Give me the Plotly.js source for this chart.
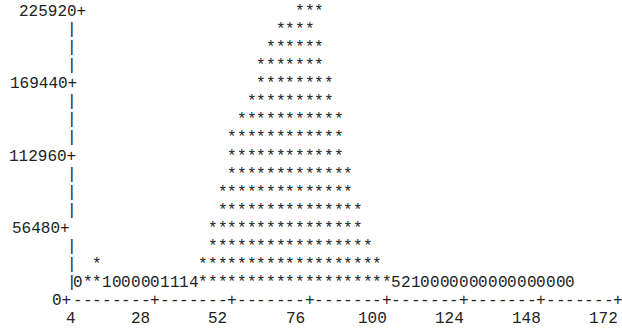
<!DOCTYPE html>
<html>
<head>
<meta charset="utf-8">
<script src="https://cdn.plot.ly/plotly-3.0.1.min.js"></script>
<style>html,body{margin:0;padding:0;background:#fff;}#chart{width:622px;height:331px;}</style>
</head>
<body>
<div id="chart"></div>
<script>
// ---- data ----
const rowStep = 14120;                       // counts represented by one text row
const yTickVals = [0, 56480, 112960, 169440, 225920];
const yTickText = ['0', '56480', '112960', '169440', '225920'];
const xTickVals = [4, 28, 52, 76, 100, 124, 148, 172];
const xTickText = ['4', '28', '52', '76', '100', '124', '148', '172'];
const binX = [4,7,10,13,16,19,22,25,28,31,34,37,40,43,46,49,52,55,58,61,64,67,70,73,76,79,82,85,88,91,94,97,100,103,106,109,112,115,118,121,124,127,130,133,136,139,142,145,148,151,154,157];
const starRows = [0,1,2,0,0,0,0,0,0,0,0,0,0,2,4,6,9,10,11,13,14,15,16,16,16,14,12,10,7,5,3,2,1,0,0,0,0,0,0,0,0,0,0,0,0,0,0,0,0,0,0,0];
const lowDigit = ['0',null,null,'1','0','0','0','0','0','1','1','1','4',
  null,null,null,null,null,null,null,null,null,null,null,null,null,null,null,null,null,null,null,null,
  '5','2','1','0','0','0','0','0','0','0','0','0','0','0','0','0','0','0','0'];

// ---- rendering ----
const FONT = {family: 'Liberation Mono, Courier New, monospace', size: 16, color: '#222'};
const CH = 9.65;                  // one character cell in px
const topVal = yTickVals[yTickVals.length - 1];
const ann = [];
function glyph(x, y, t, opts) {
  ann.push(Object.assign({x: x, y: y, xref: 'x', yref: 'y', text: t, showarrow: false,
    xanchor: 'center', yanchor: 'middle', borderpad: 0, borderwidth: 0, font: FONT}, opts || {}));
}
// histogram body
for (let c = 0; c < binX.length; c++) {
  if (starRows[c] === 0) {
    glyph(binX[c], rowStep, lowDigit[c]);
  }
  for (let k = 1; k <= starRows[c]; k++) {
    const y = k * rowStep;
    glyph(binX[c], y, '*', {xshift: y === topVal ? CH : 0});
  }
}
// y axis: labels and bars
const labelShift = [-6.7, -7.7, -1.7, -1.2, 7.8];
yTickVals.forEach((v, i) => {
  glyph(binX[0], v, yTickText[i] + '+', {xanchor: 'right', xshift: labelShift[i]});
});
for (let k = 1; k < topVal / rowStep; k++) {
  const y = k * rowStep;
  if (yTickVals.indexOf(y) === -1) glyph(binX[0], y, '|', {xshift: -6});
}
// x axis line
const lastX = xTickVals[xTickVals.length - 1];
for (let x = binX[0]; x <= lastX; x += binX[1] - binX[0]) {
  const isTick = xTickVals.indexOf(x) > 0;
  glyph(x, 0, isTick ? '+' : '-');
}
// x tick labels
xTickVals.forEach((v, i) => {
  glyph(v, -rowStep, xTickText[i], {xshift: i === 0 ? -7 : -14.5});
});

const pxPerX = 540.4 / 168;
const xmin = binX[0] - 78 / pxPerX;
const xmax = xmin + 622 / pxPerX;
const rowPx = 18.06;
const ymax = 301 / rowPx * rowStep;
const ymin = -30 / rowPx * rowStep;

Plotly.newPlot('chart', [{x: [], y: [], type: 'scatter', mode: 'markers', hoverinfo: 'skip'}], {
  width: 622, height: 331,
  margin: {l: 0, r: 0, t: 0, b: 0, pad: 0},
  paper_bgcolor: '#fff', plot_bgcolor: '#fff',
  showlegend: false,
  xaxis: {range: [xmin, xmax], visible: false, fixedrange: true},
  yaxis: {range: [ymin, ymax], visible: false, fixedrange: true},
  annotations: ann
}, {displayModeBar: false, staticPlot: true});
</script>
</body>
</html>
